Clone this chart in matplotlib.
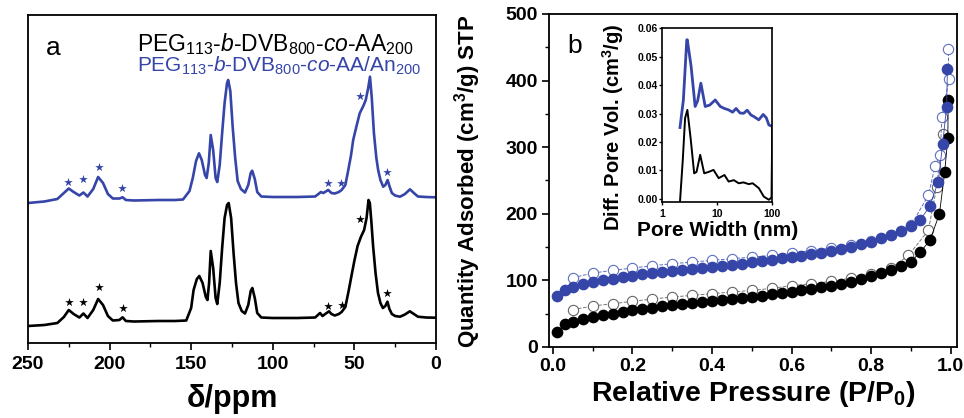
import matplotlib
matplotlib.use('Agg')
import matplotlib.pyplot as plt
from matplotlib.ticker import MultipleLocator

plt.rcParams['font.family'] = ['Liberation Sans', 'DejaVu Sans']
plt.rcParams['mathtext.fontset'] = 'custom'
plt.rcParams['mathtext.rm'] = 'Liberation Sans'
plt.rcParams['mathtext.it'] = 'Liberation Sans:italic'
plt.rcParams['mathtext.bf'] = 'Liberation Sans:bold'

BLUE = '#3545a8'

# ---------- panel a: 13C NMR (ppm, intensity in arbitrary units) ----------
ppm_black = [250, 240, 232, 228, 225, 222, 218.5, 216, 213.5, 210, 207, 204, 201, 198, 194, 192, 190, 185,
             170, 160, 153, 150, 148.5, 146.5, 145, 143, 141, 140, 139, 138, 136.5, 135, 134, 132.5, 131,
             129.5, 128, 127, 125.5, 124, 122.5, 121, 119, 117, 115, 113.5, 112.5, 111, 109.5, 107, 100,
             85, 74, 72, 71, 69.5, 67, 65.5, 64, 62, 59.5, 57.8, 55.5, 53.5, 52, 50, 48, 46, 44, 42.5,
             41.3, 40.5, 39.5, 38.5, 37, 35.5, 34, 32.5, 31, 29.7, 28.5, 27, 25, 22, 19, 16, 13.5, 11, 6, 0]
int_black = [17, 18, 20, 26, 33, 29, 25.5, 29.5, 25, 33, 44, 38, 27, 22.5, 23, 25.7, 22, 21.5,
             22, 22, 22.5, 35, 53, 64, 67, 60, 46, 43, 60, 92, 75, 45, 39, 60, 95,
             125, 138, 140, 125, 90, 60, 40, 32, 29.5, 38, 52, 55, 45, 30, 25.5, 25,
             25, 25.5, 28.5, 30, 27, 30, 31.7, 29, 27.5, 29, 31, 36, 52, 65, 82, 97, 106, 113, 125,
             143, 140, 120, 97, 70, 50, 40, 35, 37, 41.3, 34, 29, 27, 26.3, 28.5, 31.7, 29, 26.3, 25.5, 25.3]

ppm_blue = [250, 240, 232, 228, 225, 222, 218.5, 216, 213.5, 210, 207, 204, 201, 198, 194, 192, 190, 185,
            170, 160, 155, 151, 149, 147, 145.2, 143.5, 141.5, 140.5, 139.2, 138, 136.5, 135, 134, 132.5,
            131, 129.5, 128, 127.3, 126, 124.5, 123, 121.5, 119.5, 117, 115, 113.5, 112.6, 111, 109.5,
            107, 100, 85, 74, 72, 70.5, 69, 66, 64, 62, 59.5, 57.8, 55.5, 53.7, 52, 50.7, 48.5, 46.7,
            44.5, 43, 41.5, 40.4, 39.3, 38, 36.5, 35.4, 34, 32.3, 31, 29.6, 28.5, 27, 25, 22, 19, 15.9,
            13.5, 11, 6, 0]
int_blue = [140, 141.5, 144, 150, 154.5, 151, 147.5, 150.5, 146.5, 154, 166, 160, 149, 144.5, 144.5, 145.7, 143, 142.5,
            143, 143, 143.5, 152, 165, 182, 189.7, 183, 168, 165, 180, 208, 193, 165, 161, 178,
            210, 240, 260, 263, 252, 215, 185, 162, 154, 150.5, 158, 170, 172.3, 164, 151,
            146.5, 146, 146, 146.5, 149, 151, 150, 153, 150, 149.5, 151, 153, 158, 173, 188, 203, 218, 229.7,
            237, 243, 255, 266.3, 245, 210, 185, 173, 163, 156.3, 158, 163, 157, 150, 147.5, 146.3, 149, 153.7,
            150, 146.5, 146, 145.7]

# spinning side bands (*)
star_ppm_black = [225, 216, 206.5, 192, 66, 57.5, 46.5, 29.7]
star_int_black = [40.7, 40.7, 55.7, 35.3, 37, 38, 124, 50.3]
star_ppm_blue = [225.3, 216.5, 206.7, 192.2, 66, 58.4, 46.6, 29.7]
star_int_blue = [161.3, 163.7, 176.3, 154.7, 159.7, 160.3, 247.3, 171.3]

# ---------- panel b: N2 isotherms ----------
p_ads = [0.01, 0.03, 0.05, 0.075, 0.1, 0.125, 0.15, 0.175, 0.2, 0.225, 0.25, 0.275, 0.3, 0.325, 0.35,
         0.375, 0.4, 0.425, 0.45, 0.475, 0.5, 0.525, 0.55, 0.575, 0.6, 0.625, 0.65, 0.675, 0.7, 0.725,
         0.75, 0.775, 0.8, 0.825, 0.85, 0.875, 0.9]
v_ads_blue = [76, 86, 90, 94, 97, 100, 102, 105, 107, 109, 111, 113, 114.5, 116, 117.5,
              119, 120.5, 122, 123.5, 125, 127, 129, 131, 133, 135, 137, 139, 141.5, 144, 147,
              150, 154, 158, 163, 168, 174, 181]
v_ads_black = [23, 34, 38, 42, 45, 48, 50, 52.5, 55, 57, 59, 61, 62.5, 64, 65.5,
               67, 69, 70.5, 72, 73.5, 75, 77, 79, 81, 83, 85, 87, 89.5, 92, 95,
               98, 102, 107, 111, 116, 121, 128]
# high-pressure end
p_hi_blue = [0.923, 0.947, 0.969, 0.98, 0.99, 0.992]
v_hi_blue = [190, 211, 248, 305, 361, 418]
p_hi_black = [0.923, 0.948, 0.972, 0.985, 0.993, 0.994]
v_hi_black = [142, 160, 200, 262, 314, 371]

p_des_blue = [0.05, 0.1, 0.15, 0.2, 0.25, 0.3, 0.35, 0.4, 0.45, 0.5, 0.55, 0.6, 0.65, 0.7, 0.75,
              0.8, 0.85, 0.9, 0.944, 0.961, 0.974, 0.978, 0.996, 0.994]
v_des_blue = [104, 111, 115, 118.5, 122, 125, 127.5, 130, 132.5, 135, 137.5, 141, 144.5, 148.5, 153.5,
              158.5, 167.5, 182.5, 227.5, 272, 288, 345, 402, 447]
p_des_black = [0.05, 0.1, 0.15, 0.2, 0.25, 0.3, 0.35, 0.4, 0.45, 0.5, 0.55, 0.6, 0.65, 0.7, 0.75,
               0.8, 0.85, 0.894, 0.944, 0.965, 0.98]
v_des_black = [56, 61.5, 65, 68.5, 72, 75, 77.5, 80, 82.5, 85, 88, 92, 95, 98.5, 103.5,
               110, 118, 137.5, 175, 240, 320]

# inset: pore size distribution
w_blue = [2.1, 2.42, 2.79, 2.85, 3.35, 3.96, 4.4, 5.03, 6.04, 7.3, 9.18, 11.35, 13.5, 16.1, 19, 22,
          26, 30.1, 35, 41, 46, 56.9, 68.4, 78, 86.9, 100]
pv_blue = [0.0251, 0.0348, 0.0559, 0.056, 0.0465, 0.0325, 0.0345, 0.0407, 0.0325, 0.0330, 0.0348, 0.0325,
           0.0318, 0.0313, 0.0305, 0.0318, 0.0302, 0.0301, 0.0312, 0.0295, 0.029, 0.0278, 0.0297, 0.0285,
           0.026, 0.0255]
w_black = [2.1, 2.36, 2.6, 2.86, 3.3, 3.8, 4.2, 4.89, 5.79, 7, 8.55, 10.6, 13.5, 16.1, 20, 24.5, 30,
           37.3, 44, 56.9, 70.2, 86.9, 97, 100]
pv_black = [-0.001, 0.0137, 0.0284, 0.0313, 0.0208, 0.009, 0.0095, 0.0155, 0.009, 0.0095, 0.0102, 0.0073,
            0.0084, 0.0061, 0.0066, 0.0055, 0.0058, 0.0052, 0.0055, 0.0038, 0.0008, -0.0003, 0.0005, 0.025]

fig = plt.figure(figsize=(9.64, 4.18), dpi=100)

# ---------- panel a ----------
ax1 = fig.add_axes([0.029, 0.1794, 0.4232, 0.7847])
ax1.plot(ppm_black, int_black, color='black', lw=1.9, solid_joinstyle='round')
ax1.plot(ppm_blue, int_blue, color=BLUE, lw=1.9, solid_joinstyle='round')
ax1.scatter(star_ppm_black, star_int_black, marker='*', s=42, color='black', lw=0, zorder=3)
ax1.scatter(star_ppm_blue, star_int_blue, marker='*', s=42, color=BLUE, lw=0, zorder=3)
ax1.set_xlim(250, 0)
ax1.set_ylim(0, 328)
ax1.set_yticks([])
ax1.xaxis.set_major_locator(MultipleLocator(50))
ax1.xaxis.set_minor_locator(MultipleLocator(25))
ax1.tick_params(axis='x', which='major', direction='out', length=5, width=1.2, labelsize=14, pad=4)
ax1.tick_params(axis='x', which='minor', direction='out', length=3, width=1.0)
for lab in ax1.get_xticklabels():
    lab.set_fontweight('bold')
ax1.set_xlabel(r'δ/ppm', fontsize=22, fontweight='bold', labelpad=8)
for sp in ax1.spines.values():
    sp.set_linewidth(1.3)
ax1.text(0.045, 0.90, 'a', transform=ax1.transAxes, fontsize=19, va='center', ha='left')
ax1.text(0.268, 0.912, r'PEG$_{113}$-$b$-DVB$_{800}$-$co$-AA$_{200}$', transform=ax1.transAxes,
         fontsize=16.5, va='center', ha='left', color='black')
ax1.text(0.268, 0.845, r'PEG$_{113}$-$b$-DVB$_{800}$-$co$-AA/An$_{200}$', transform=ax1.transAxes,
         fontsize=15, va='center', ha='left', color=BLUE)

# ---------- panel b ----------
ax2 = fig.add_axes([0.5695, 0.1699, 0.4232, 0.7967])
ms = 7.4
ax2.plot(p_des_black, v_des_black, ls='--', lw=0.7, color='#777777', marker='o', ms=ms,
         mfc='white', mec='#666666', mew=0.8, zorder=2)
ax2.plot(p_des_blue, v_des_blue, ls='--', lw=0.7, color='#6070c0', marker='o', ms=ms,
         mfc='white', mec='#6070c0', mew=0.8, zorder=2)
ax2.plot(p_ads + p_hi_black, v_ads_black + v_hi_black, ls='-', lw=0.6, color='black', marker='o', ms=ms,
         mfc='black', mec='black', zorder=3)
ax2.plot(p_ads + p_hi_blue, v_ads_blue + v_hi_blue, ls='-', lw=0.6, color=BLUE, marker='o', ms=ms,
         mfc=BLUE, mec=BLUE, zorder=3)
ax2.set_xlim(-0.01, 1.016)
ax2.set_ylim(0, 500)
ax2.xaxis.set_major_locator(MultipleLocator(0.2))
ax2.xaxis.set_minor_locator(MultipleLocator(0.1))
ax2.yaxis.set_major_locator(MultipleLocator(100))
ax2.yaxis.set_minor_locator(MultipleLocator(50))
ax2.tick_params(which='major', direction='out', length=5, width=1.2, labelsize=14, pad=3)
ax2.tick_params(which='minor', direction='out', length=3, width=1.0)
ax2.set_xticks([0.0, 0.2, 0.4, 0.6, 0.8, 1.0])
ax2.set_xticklabels(['0.0', '0.2', '0.4', '0.6', '0.8', '1.0'])
for lab in ax2.get_xticklabels() + ax2.get_yticklabels():
    lab.set_fontweight('bold')
ax2.set_xlabel(r'Relative Pressure (P/P$_\mathbf{0}$)', fontsize=20.5, fontweight='bold', labelpad=3)
ax2.set_ylabel(r'Quantity Adsorbed (cm$^\mathbf{3}$/g) STP', fontsize=16, fontweight='bold')
ax2.yaxis.set_label_coords(-0.162, 0.497)
for sp in ax2.spines.values():
    sp.set_linewidth(1.3)
ax2.text(0.045, 0.905, 'b', transform=ax2.transAxes, fontsize=19, va='center', ha='left')

# inset
ax3 = fig.add_axes([0.687, 0.516, 0.1141, 0.4163])
ax3.plot(w_blue, pv_blue, color=BLUE, lw=2.0)
ax3.plot(w_black, pv_black, color='black', lw=1.4)
ax3.set_xscale('log')
ax3.set_xlim(1, 100)
ax3.set_ylim(-0.0012, 0.06)
ax3.set_yticks([0.0, 0.01, 0.02, 0.03, 0.04, 0.05, 0.06])
ax3.set_yticklabels(['0.00', '0.01', '0.02', '0.03', '0.04', '0.05', '0.06'])
ax3.set_xticks([1, 10, 100])
ax3.set_xticklabels(['1', '10', '100'])
ax3.minorticks_off()
ax3.tick_params(direction='out', length=2.5, width=1.0, labelsize=7.5, pad=1)
ax3.tick_params(axis='x', pad=2.5)
for lab in ax3.get_xticklabels() + ax3.get_yticklabels():
    lab.set_fontweight('bold')
ax3.set_xlabel('Pore Width (nm)', fontsize=15, fontweight='bold')
ax3.xaxis.set_label_coords(0.5, -0.11)
ax3.set_ylabel(r'Diff. Pore Vol. (cm$^\mathbf{3}$/g)', fontsize=14.5, fontweight='bold')
ax3.yaxis.set_label_coords(-0.33, 0.43)
for sp in ax3.spines.values():
    sp.set_linewidth(1.2)

fig.savefig('out.png', dpi=100)
